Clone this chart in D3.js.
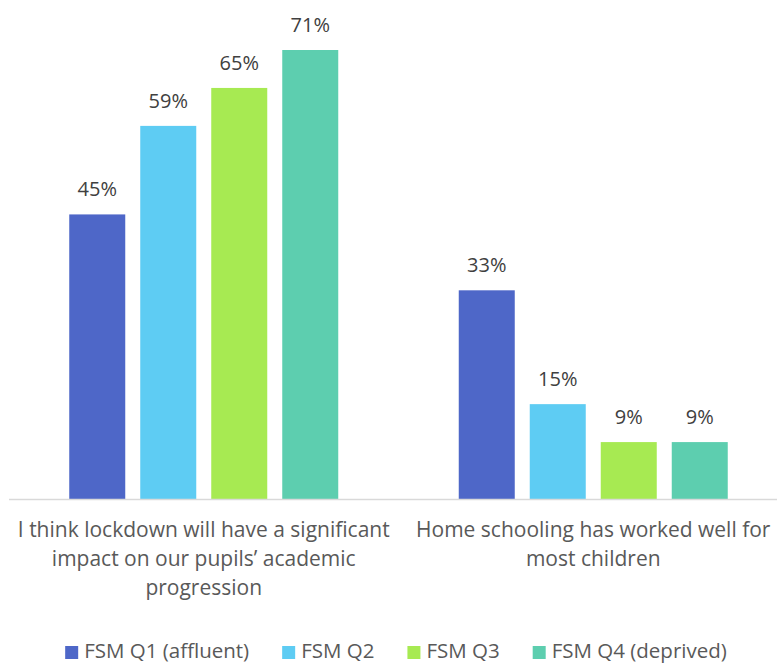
<!DOCTYPE html>
<html><head><meta charset="utf-8">
<script src="https://cdn.jsdelivr.net/npm/d3@7"></script>
<style>body{margin:0;background:#fff}svg{display:block}</style>
</head><body>
<script>
const categories = [
  ["I think lockdown will have a significant", "impact on our pupils\u2019 academic", "progression"],
  ["Home schooling has worked well for", "most children"]
];
const seriesNames = ["FSM Q1 (affluent)", "FSM Q2", "FSM Q3", "FSM Q4 (deprived)"];
const q1 = [45, 33];
const q2 = [59, 15];
const q3 = [65, 9];
const q4 = [71, 9];
const colors = ["#4E67C8", "#5ECCF3", "#A7EA52", "#5DCEAF"];

const W = 777, H = 664;
const font = "'Open Sans', sans-serif";
const svg = d3.select("body").append("svg").attr("width", W).attr("height", H);

const series = [q1, q2, q3, q4];
const catIdx = categories.map((c, i) => i);
const x0 = d3.scaleBand().domain(catIdx).range([9, 788]).padding(0);
const inner = 269;
const x1 = d3.scaleBand().domain(d3.range(4)).range([0, inner]).paddingInner(15/71).paddingOuter(0);
const y = d3.scaleLinear().domain([0, 71]).range([499, 50]);

// bars
catIdx.forEach(ci => {
  const off = x0(ci) + (x0.bandwidth() - inner) / 2;
  series.forEach((s, si) => {
    const v = s[ci];
    svg.append("rect")
      .attr("x", off + x1(si)).attr("y", y(v))
      .attr("width", x1.bandwidth()).attr("height", y(0) - y(v))
      .attr("fill", colors[si]);
    svg.append("text")
      .attr("x", off + x1(si) + x1.bandwidth() / 2).attr("y", y(v) - 18)
      .attr("text-anchor", "middle").attr("font-family", font).attr("font-size", 20)
      .attr("fill", "#404040").text(v + "%");
  });
});

// axis line
svg.append("line").attr("x1", 9).attr("x2", W).attr("y1", 499.5).attr("y2", 499.5)
  .attr("stroke", "#d9d9d9").attr("stroke-width", 1.5);

// category labels
catIdx.forEach(ci => {
  const cx = x0(ci) + x0.bandwidth() / 2;
  categories[ci].forEach((line, li) => {
    svg.append("text").attr("x", cx).attr("y", 537 + li * 29)
      .attr("text-anchor", "middle").attr("font-family", font).attr("font-size", 21)
      .attr("fill", "#595959").text(line);
  });
});

// legend
const leg = svg.append("g");
let cx = 0;
seriesNames.forEach((n, i) => {
  const g = leg.append("g").attr("transform", `translate(${cx},0)`);
  g.append("rect").attr("x", 0).attr("y", 646).attr("width", 13).attr("height", 13).attr("fill", colors[i]);
  const t = g.append("text").attr("x", 19).attr("y", 658).attr("font-family", font)
    .attr("font-size", 20.5).attr("fill", "#595959").text(n);
  cx += 19 + t.node().getComputedTextLength() + 33;
});
const total = cx - 33;
leg.attr("transform", `translate(${396 - total / 2},0)`);
</script>
</body></html>
